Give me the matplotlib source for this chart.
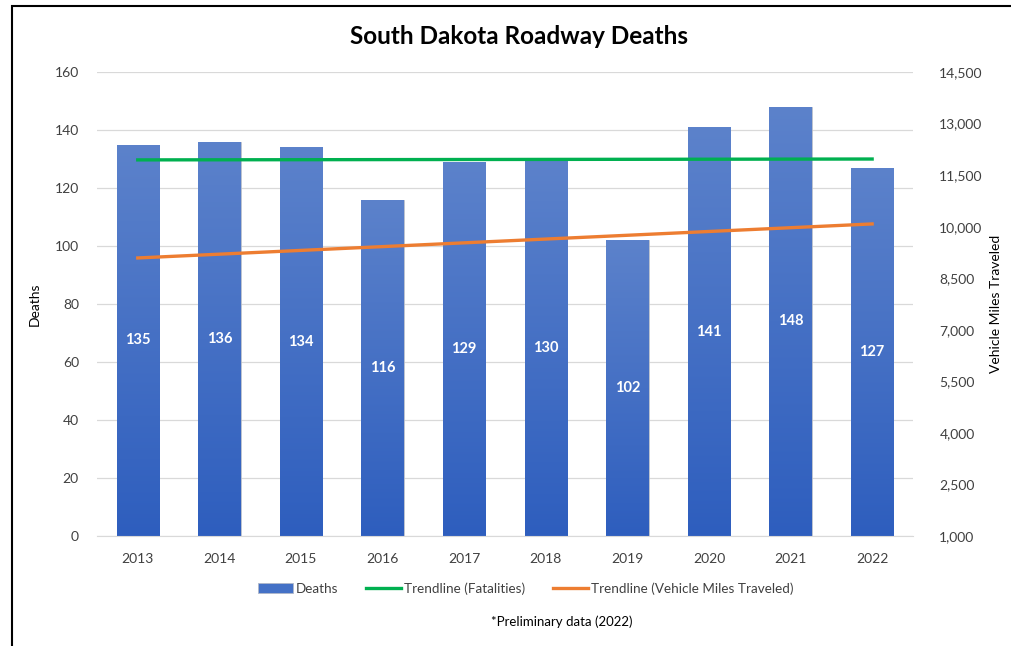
import matplotlib.pyplot as plt
import numpy as np
from matplotlib.axes import Axes
from matplotlib.figure import Figure
from matplotlib.lines import Line2D
from matplotlib.patches import Patch, Rectangle
from matplotlib.ticker import FuncFormatter, MultipleLocator

YEARS = ["2013", "2014", "2015", "2016", "2017", "2018", "2019", "2020", "2021", "2022"]
DEATHS = [135, 136, 134, 116, 129, 130, 102, 141, 148, 127]

# trendline endpoints (first year, last year)
FATAL_TREND = [129.7, 130.0]
VMT_TREND = [9090, 10080]

VMT_TICKS = [1000, 2500, 4000, 5500, 7000, 8500, 10000, 11500, 13000, 14500]

BAR_TOP = "#5C82CB"
BAR_BOTTOM = "#2E5EBE"
GREEN = "#00B050"
ORANGE = "#ED7D31"
TEXT = "#404040"
FONT = ["Lato", "DejaVu Sans"]


def gradient_bars(ax: Axes, xs, heights, width):
    top = np.array(plt.matplotlib.colors.to_rgb(BAR_TOP))
    bot = np.array(plt.matplotlib.colors.to_rgb(BAR_BOTTOM))
    grad = np.linspace(0, 1, 256)[:, None, None]
    img = bot + (top - bot) * grad
    bars = ax.bar(xs, heights, width=width, color="none",
                  edgecolor="#B0B8C8", linewidth=0.6, zorder=2)
    for bar in bars:
        x0, y0 = bar.get_x(), bar.get_y()
        w, h = bar.get_width(), bar.get_height()
        im = ax.imshow(img, extent=(x0, x0 + w, y0, y0 + h), origin="lower",
                       aspect="auto", zorder=2, interpolation="bilinear")
        im.set_clip_path(bar)
    return bars


def main():
    plt.rcParams["font.family"] = FONT

    fig: Figure = plt.figure(figsize=(10.11, 6.46), dpi=100)
    ax: Axes = fig.add_axes([0.0959, 0.1703, 0.8071, 0.7182])
    ax2: Axes = ax.twinx()

    xs = np.arange(len(YEARS))
    gradient_bars(ax, xs, DEATHS, 0.52)

    for x, v in zip(xs, DEATHS):
        ax.text(x, v / 2, str(v), ha="center", va="center", color="white",
                fontsize=10.5, fontweight="bold", zorder=4)

    ax.plot([xs[0], xs[-1]], FATAL_TREND, color=GREEN, lw=2.4, zorder=3)
    ax2.plot([xs[0], xs[-1]], VMT_TREND, color=ORANGE, lw=2.4, zorder=3)

    ax.set_xlim(-0.5, len(YEARS) - 0.5)
    ax.set_ylim(0, 160)
    ax.yaxis.set_major_locator(MultipleLocator(20))
    ax.set_xticks(xs)
    ax.set_xticklabels(YEARS)
    ax.grid(axis="y", color="#D9D9D9", lw=0.9, zorder=0)
    ax.set_axisbelow(True)

    ax2.set_ylim(VMT_TICKS[0], VMT_TICKS[-1])
    ax2.set_yticks(VMT_TICKS)
    ax2.yaxis.set_major_formatter(FuncFormatter(lambda v, p: f"{int(v):,}"))

    for a in (ax, ax2):
        for s in a.spines.values():
            s.set_visible(False)
        a.tick_params(length=0, labelsize=10, labelcolor=TEXT)
    ax.spines["bottom"].set_visible(True)
    ax.spines["bottom"].set_color("#D9D9D9")
    ax.tick_params(axis="x", pad=12)
    ax.tick_params(axis="y", pad=13)
    ax2.tick_params(axis="y", pad=19)

    ax.set_ylabel("Deaths", fontsize=10, color="black", labelpad=10)
    ax2.set_ylabel("Vehicle Miles Traveled", fontsize=10, color="black", labelpad=5)

    fig.text(0.513, 0.944, "South Dakota Roadway Deaths", ha="center", va="center",
             fontsize=17.5, fontweight="bold", color="black")

    handles = [
        Patch(facecolor="#4471C6", edgecolor="#B0B8C8", lw=0.6),
        Line2D([], [], color=GREEN, lw=2.4),
        Line2D([], [], color=ORANGE, lw=2.4),
    ]
    labels = ["Deaths", "Trendline (Fatalities)", "Trendline (Vehicle Miles Traveled)"]
    fig.legend(handles, labels, loc="center", bbox_to_anchor=(0.52, 0.089), ncol=3,
               frameon=False, fontsize=9.7, handlelength=2.6, handletextpad=0.2,
               columnspacing=2.1, labelcolor=TEXT)

    fig.text(0.556, 0.038, "*Preliminary data (2022)", ha="center", va="center",
             fontsize=9.5, color="black")

    fig.patches.append(Rectangle((0.0115, -0.05), 1.1, 1.04, transform=fig.transFigure,
                                 fill=False, edgecolor="black", lw=1.5))

    fig.savefig("out.png", dpi=100)


if __name__ == "__main__":
    main()
